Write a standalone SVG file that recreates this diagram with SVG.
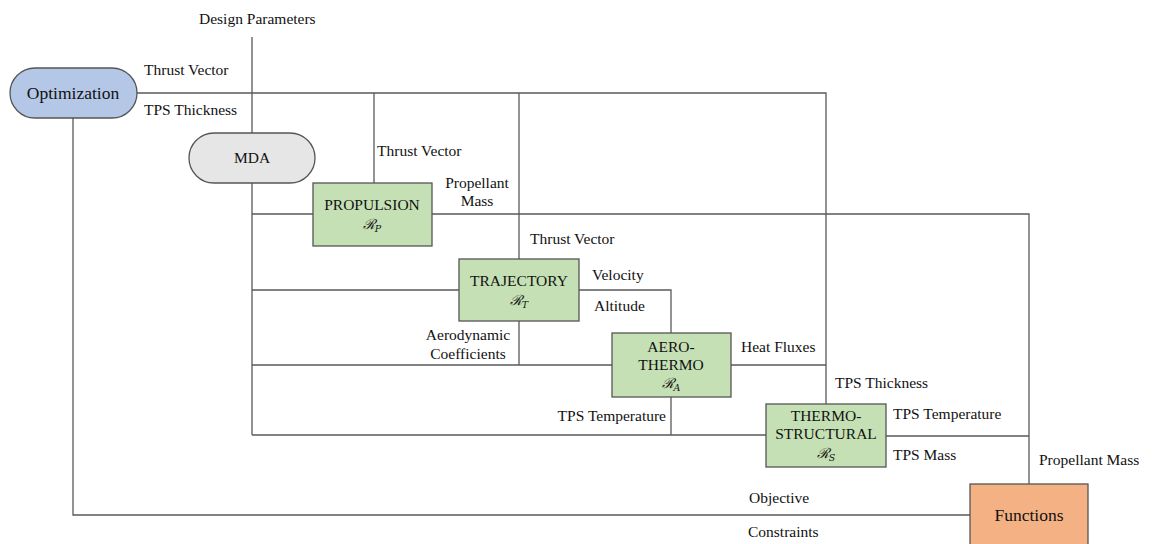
<svg xmlns="http://www.w3.org/2000/svg" width="1155" height="544" viewBox="0 0 1155 544" font-family="'Liberation Serif', 'Times New Roman', serif">
<style>
.ln{fill:none;stroke:#5a5a5a;stroke-width:1.3}
.bx{stroke:#555;stroke-width:1.3}
.g{fill:#c5e0b4}
.t{font-family:'Liberation Serif','Times New Roman',serif;font-size:15.5px;fill:#111}
.big{font-size:17.5px}
.c{text-anchor:middle}
.r{text-anchor:end}
.m{font-family:'DejaVu Serif',serif;font-style:italic;font-size:14px;fill:#111}
.s{font-size:9.5px}
</style>
<rect width="1155" height="544" fill="#fff"/>
<g id="connectors">
<path class="ln" d="M252 37V133M252 183V435"/>
<path class="ln" d="M137 93H826V404"/>
<path class="ln" d="M374 93V183"/>
<path class="ln" d="M519 93V259"/>
<path class="ln" d="M252 214H313M432 214H1029V484"/>
<path class="ln" d="M252 290H459M579 290H671V333"/>
<path class="ln" d="M519 321V365H612M252 365H612M731 365H826"/>
<path class="ln" d="M671 397V435H766M252 435H766M886 436H1029"/>
<path class="ln" d="M73 118V515H970"/>
</g>
<g id="optimization"><rect class="bx" x="10" y="68" width="127" height="50" rx="25" fill="#b4c7e7"/><text class="t big c" x="73" y="99">Optimization</text></g>
<g id="mda"><rect class="bx" x="189" y="133" width="126" height="50" rx="25" fill="#e7e6e6"/><text class="t c" x="252" y="163">MDA</text></g>
<g id="propulsion"><rect class="bx g" x="313" y="183" width="119" height="63"/><text class="t c" x="372" y="210">PROPULSION</text><text class="c m" x="372" y="229">ℛ<tspan class="s" dy="3">P</tspan></text></g>
<g id="trajectory"><rect class="bx g" x="459" y="259" width="120" height="62"/><text class="t c" x="519" y="286">TRAJECTORY</text><text class="c m" x="519" y="305">ℛ<tspan class="s" dy="3">T</tspan></text></g>
<g id="aerothermo"><rect class="bx g" x="612" y="333" width="119" height="64"/><text class="t c" x="671" y="352">AERO-</text><text class="t c" x="671" y="370">THERMO</text><text class="c m" x="671" y="388">ℛ<tspan class="s" dy="3">A</tspan></text></g>
<g id="thermostructural"><rect class="bx g" x="766" y="404" width="120" height="63"/><text class="t c" x="826" y="421">THERMO-</text><text class="t c" x="826" y="439">STRUCTURAL</text><text class="c m" x="826" y="458">ℛ<tspan class="s" dy="3">S</tspan></text></g>
<g id="functions"><rect class="bx" x="970" y="484" width="118" height="64" fill="#f4b183"/><text class="t big c" x="1029" y="521">Functions</text></g>
<g id="labels">
<text class="t" x="199" y="24">Design Parameters</text>
<text class="t" x="144" y="75">Thrust Vector</text>
<text class="t" x="144" y="115">TPS Thickness</text>
<text class="t" x="377" y="156">Thrust Vector</text>
<text class="t c" x="477" y="188">Propellant</text>
<text class="t c" x="477" y="206">Mass</text>
<text class="t" x="530" y="244">Thrust Vector</text>
<text class="t" x="592" y="280">Velocity</text>
<text class="t" x="594" y="311">Altitude</text>
<text class="t c" x="468" y="340">Aerodynamic</text>
<text class="t c" x="468" y="359">Coefficients</text>
<text class="t" x="741" y="352">Heat Fluxes</text>
<text class="t" x="835" y="388">TPS Thickness</text>
<text class="t r" x="666" y="421">TPS Temperature</text>
<text class="t" x="893" y="419">TPS Temperature</text>
<text class="t" x="893" y="460">TPS Mass</text>
<text class="t" x="1039" y="465">Propellant Mass</text>
<text class="t" x="749" y="503">Objective</text>
<text class="t" x="748" y="537">Constraints</text>
</g>
</svg>
